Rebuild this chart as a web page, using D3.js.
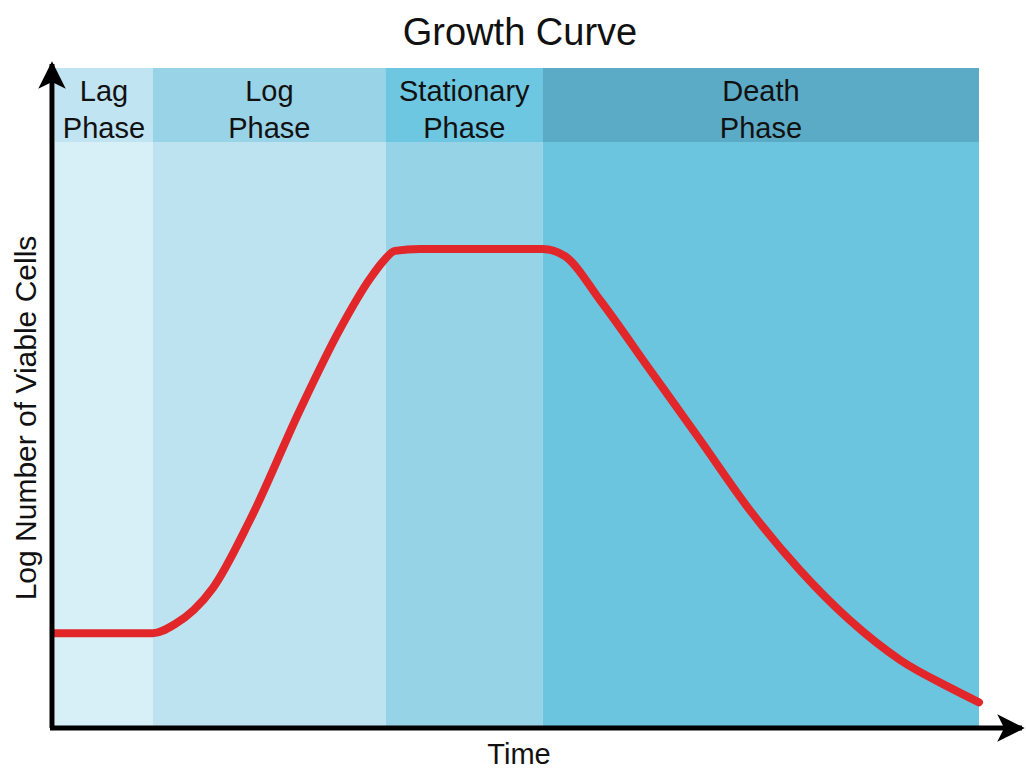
<!DOCTYPE html>
<html>
<head>
<meta charset="utf-8">
<script src="https://cdn.jsdelivr.net/npm/d3@7"></script>
<style>
  body { margin: 0; background: #fff; }
  text { font-family: "Liberation Sans", Arial, sans-serif; fill: #111; }
</style>
</head>
<body>
<div id="chart"></div>
<script>
// phases (time units 0..10)
var phaseNames = [["Lag", "Phase"], ["Log", "Phase"], ["Stationary", "Phase"], ["Death", "Phase"]]
var phaseStart = [0, 1.06, 3.58, 5.28]
var phaseEnd = [1.06, 3.58, 5.28, 10]
var headColors = ["#c0e4f1", "#99d3e7", "#6dc7e0", "#5cabc6"]
var bodyColors = ["#d7eff7", "#bde3f1", "#96d3e7", "#6bc5df"]

// growth curve: time vs log number of viable cells
var times  = [0, 1.06, 1.30, 1.50, 1.71, 2.11, 2.65, 3.08, 3.41, 3.55, 3.68, 3.95, 5.00, 5.28, 5.52, 5.90, 6.44, 6.98, 7.52, 8.06, 8.60, 9.15, 9.69, 10]
var counts = [1.41, 1.41, 1.55, 1.76, 2.10, 3.13, 4.80, 6.02, 6.80, 7.06, 7.22, 7.25, 7.25, 7.25, 7.14, 6.47, 5.41, 4.35, 3.28, 2.37, 1.61, 1.00, 0.58, 0.36]

var W = 1026, H = 769
var margin = {top: 68, right: 47, bottom: 43, left: 55}
var width = W - margin.left - margin.right,
    height = H - margin.top - margin.bottom

var svg = d3.select("#chart").append("svg")
  .attr("width", W).attr("height", H)

var defs = svg.append("defs")
defs.append("marker")
  .attr("id", "arrow")
  .attr("viewBox", "0 0 10 10")
  .attr("refX", 9).attr("refY", 5)
  .attr("markerWidth", 5.5).attr("markerHeight", 5.5)
  .attr("markerUnits", "strokeWidth")
  .attr("orient", "auto")
  .append("path")
  .attr("d", "M0,0 L10,5 L0,10 L2.5,5 Z")
  .attr("fill", "#000")

var g = svg.append("g")
  .attr("transform", "translate(" + margin.left + "," + margin.top + ")")

var x = d3.scaleLinear().domain([0, 10]).range([0, width])
var y = d3.scaleLinear().domain([0, 10]).range([height, 0])
var headH = 74

// phase backgrounds
g.selectAll(".body").data(phaseStart).enter().append("rect")
  .attr("x", function(d) { return x(d) })
  .attr("y", 0)
  .attr("width", function(d, i) { return x(phaseEnd[i]) - x(d) })
  .attr("height", height)
  .attr("fill", function(d, i) { return bodyColors[i] })

g.selectAll(".head").data(phaseStart).enter().append("rect")
  .attr("x", function(d) { return x(d) })
  .attr("y", 0)
  .attr("width", function(d, i) { return x(phaseEnd[i]) - x(d) })
  .attr("height", headH)
  .attr("fill", function(d, i) { return headColors[i] })

// phase labels
var labels = g.selectAll(".lab").data(phaseStart).enter().append("text")
  .attr("x", function(d, i) { return (x(d) + x(phaseEnd[i])) / 2 })
  .attr("y", 33)
  .attr("text-anchor", "middle")
  .style("font-size", "29px")
labels.append("tspan")
  .attr("x", function(d, i) { return (x(d) + x(phaseEnd[i])) / 2 })
  .text(function(d, i) { return phaseNames[i][0] })
labels.append("tspan")
  .attr("x", function(d, i) { return (x(d) + x(phaseEnd[i])) / 2 })
  .attr("dy", 37)
  .text(function(d, i) { return phaseNames[i][1] })

// curve
var line = d3.line()
  .x(function(d) { return x(d[0]) })
  .y(function(d) { return y(d[1]) })
  .curve(d3.curveMonotoneX)

g.append("path")
  .datum(times.map(function(t, i) { return [t, counts[i]] }))
  .attr("d", line)
  .attr("fill", "none")
  .attr("stroke", "#e2272b")
  .attr("stroke-width", 8)
  .attr("stroke-linecap", "round")
  .attr("stroke-linejoin", "round")

// axes with arrows
g.append("line")
  .attr("x1", -3).attr("y1", height + 2)
  .attr("x2", -3).attr("y2", -4)
  .attr("stroke", "#000").attr("stroke-width", 5)
  .attr("marker-end", "url(#arrow)")

g.append("line")
  .attr("x1", -5).attr("y1", height + 2)
  .attr("x2", W - margin.left - 4).attr("y2", height + 2)
  .attr("stroke", "#000").attr("stroke-width", 5)
  .attr("marker-end", "url(#arrow)")

// titles
svg.append("text")
  .attr("x", 520).attr("y", 45)
  .attr("text-anchor", "middle")
  .style("font-size", "38px")
  .text("Growth Curve")

svg.append("text")
  .attr("x", 519).attr("y", 764)
  .attr("text-anchor", "middle")
  .style("font-size", "29px")
  .text("Time")

svg.append("text")
  .attr("transform", "translate(36," + 418 + ") rotate(-90)")
  .attr("text-anchor", "middle")
  .style("font-size", "30px")
  .text("Log Number of Viable Cells")
</script>
</body>
</html>
